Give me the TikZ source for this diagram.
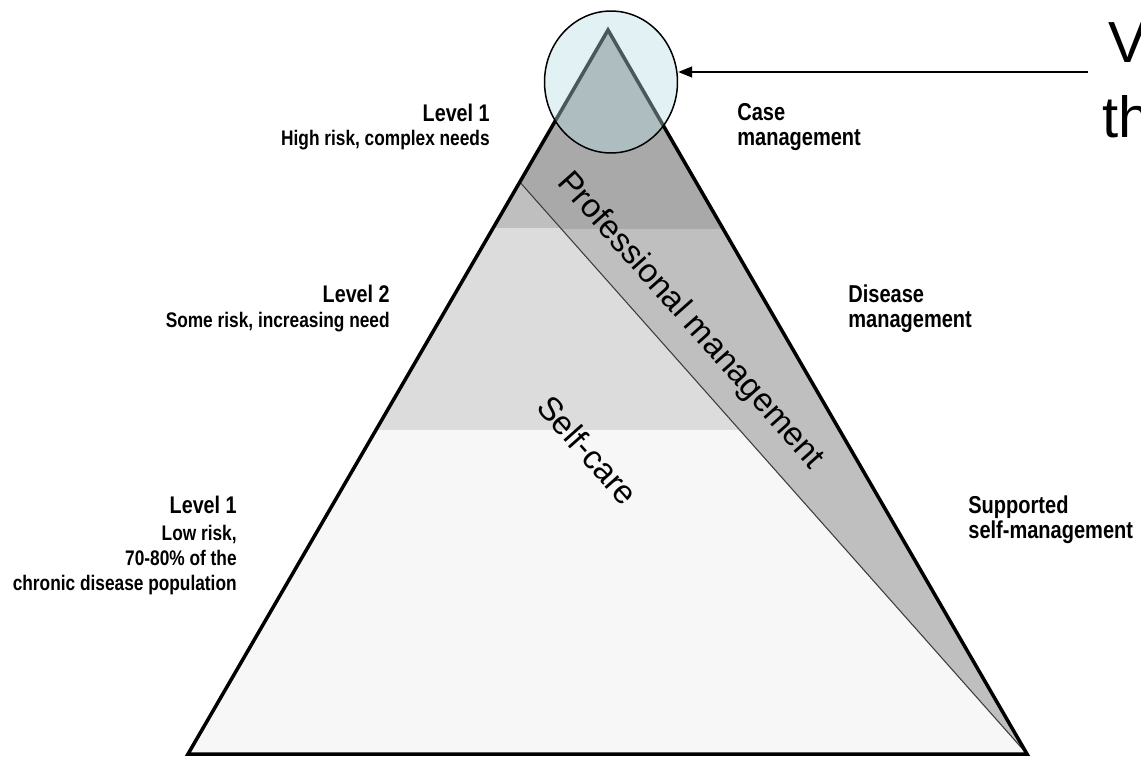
\documentclass[tikz,border=0pt]{standalone}
\usepackage{fontspec}
\setmainfont{Liberation Sans}
\newfontfamily\narrowsans[FakeStretch=0.82]{Liberation Sans}
\usetikzlibrary{positioning,arrows.meta,shapes.geometric,calc}
\definecolor{striptop}{RGB}{169,169,169}
\definecolor{stripgray}{RGB}{191,191,191}
\definecolor{bandmid}{RGB}{220,220,220}
\definecolor{bandlow}{RGB}{247,247,247}
\definecolor{focusblue}{RGB}{183,221,224}
\definecolor{edgegray}{RGB}{60,60,60}

\begin{document}
\begin{tikzpicture}[x=0.02cm,y=-0.02cm,
    levelhead/.style={font=\narrowsans\bfseries\fontsize{13.7}{16}\selectfont, inner sep=0pt, anchor=base east},
    levelsub/.style={font=\narrowsans\bfseries\fontsize{12}{14}\selectfont, inner sep=0pt, anchor=base east},
    carelabel/.style={font=\narrowsans\bfseries\fontsize{13.9}{16}\selectfont, inner sep=0pt, anchor=base west},
    bandtext/.style={font=\fontsize{18.8}{22}\selectfont, rotate=-48.4, inner sep=0pt}]
  \useasboundingbox (0,0) rectangle (1141,757);
  \coordinate (apex) at (608,30);
  \coordinate (bl) at (188,754);
  \coordinate (br) at (1027,754);
  \coordinate (split) at ($(apex)!0.21!(bl)$);
  % shaded bands and the professional strip
  \begin{scope}
    \clip (apex) -- (bl) -- (br) -- cycle;
    \fill[stripgray] (0,0) rectangle (1141,228);
    \fill[bandmid] (0,228) rectangle (1141,430);
    \fill[bandlow] (0,430) rectangle (1141,757);
    \fill[stripgray] (split) -- (apex) -- (br) -- cycle;
    \begin{scope}
      \clip (0,0) rectangle (1141,228);
      \fill[striptop] (split) -- (apex) -- (br) -- cycle;
    \end{scope}
  \end{scope}
  \draw[edgegray, line width=0.6pt] (split) -- (br);
  \draw[line width=2pt] (apex) -- (bl) -- (br) -- cycle;
  % highlight at the top
  \node[draw, ellipse, fill=focusblue, fill opacity=0.4, line width=0.85pt, minimum width=2.66cm, minimum height=2.84cm, inner sep=0pt] (focus) at (611,82) {};
  \coordinate (pointer) at (1088,72);
  \draw[-{Triangle[length=2.8mm,width=2.2mm]}, line width=0.85pt] (pointer) -- (pointer -| focus.east);
  \node[font=\fontsize{33}{40}\selectfont, anchor=base west, inner sep=0pt] (cuev) at (1108,63) {V};
  \node[font=\fontsize{33}{40}\selectfont, anchor=base west, inner sep=0pt] (cueth) at (1102,137) {th};
  % levels on the left
  \node[levelhead] (lvlhigh) at (490,121) {Level 1};
  \node[levelsub] (subhigh) at (490,145) {High risk, complex needs};
  \node[levelhead] (lvlsome) at (390,302) {Level 2};
  \node[levelsub] (subsome) at (390,327) {Some risk, increasing need};
  \node[levelhead] (lvllow) at (237,513) {Level 1};
  \node[levelsub] (sublowa) at (237,540) {Low risk,};
  \node[levelsub] (sublowb) at (237,565) {70-80\% of the};
  \node[levelsub] (sublowc) at (237,590) {chronic disease population};
  % care types on the right
  \node[carelabel] (casea) at (737,120) {Case};
  \node[carelabel] (caseb) at (737,145) {management};
  \node[carelabel] (disa) at (848,302) {Disease};
  \node[carelabel] (disb) at (848,327) {management};
  \node[carelabel] (supa) at (968,513) {Supported};
  \node[carelabel] (supb) at (968,538) {self-management};
  % texts along the split
  \node[bandtext] (prof) at (690,321) {Professional management};
  \node[bandtext] (selfcare) at (588,450) {Self-care};
\end{tikzpicture}
\end{document}
